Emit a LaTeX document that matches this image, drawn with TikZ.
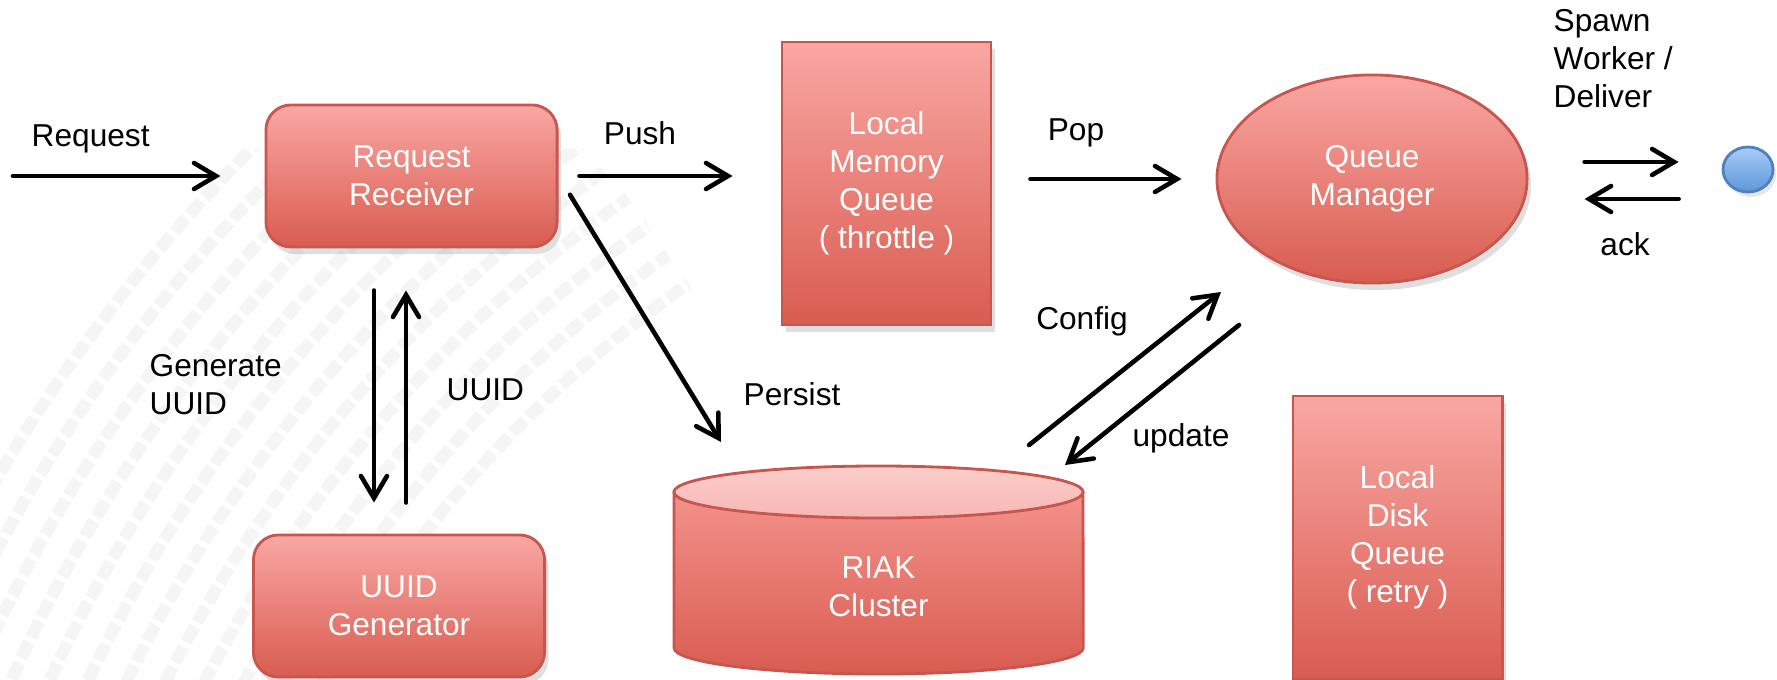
\documentclass[tikz,border=0pt]{standalone}
\usepackage{fontspec}
\setmainfont{Liberation Sans}
\usetikzlibrary{arrows.meta,shapes.geometric,shadows}

\definecolor{boxtop}{HTML}{F9A7A3}
\definecolor{boxbot}{HTML}{D95C50}
\definecolor{boxline}{HTML}{C8564E}
\definecolor{cylbody}{HTML}{F3928B}
\definecolor{cyltop}{HTML}{FBCECB}
\definecolor{cyltopb}{HTML}{F7B7B4}
\definecolor{bubtop}{HTML}{A9CCF6}
\definecolor{bubbot}{HTML}{5C97DA}
\definecolor{bubline}{HTML}{4F81BD}
\definecolor{backband}{HTML}{F5F5F5}

\tikzset{
    block/.style={draw=boxline, line width=0.8pt, top color=boxtop, bottom color=boxbot,
        text=white, align=center, inner sep=1pt, font=\fontsize{9}{10.8}\selectfont,
        drop shadow={opacity=0.25, shadow xshift=0.4mm, shadow yshift=-0.7mm}},
    flow/.style={line width=1.3pt, line cap=round,
        -{Straight Barb[length=2.2mm, width=2.6mm, line cap=round]}},
    lbl/.style={inner sep=0pt, align=left, font=\fontsize{9}{10.8}\selectfont}
}

\begin{document}
\begin{tikzpicture}[x=0.01cm, y=-0.01cm]
        \useasboundingbox (0,0) rectangle (1777,679);
        \begin{scope}
        \clip (0,150) rectangle (720,679);
        \foreach \r in {12.4,12.75,...,16.3}
            \draw[backband, line width=3.5pt, dash pattern=on 5pt off 1.5pt]
            (1400,1300) ++(180:\r cm) arc[start angle=180, end angle=125, radius=\r cm];
        \end{scope}

        \node[block, rounded corners=0.25cm, minimum width=2.91cm, minimum height=1.42cm] (rr) at (411.5,176) {Request\\Receiver};
        \node[block, rounded corners=0.25cm, minimum width=2.91cm, minimum height=1.42cm] (gen) at (399,606) {UUID\\Generator};
        \node[block, minimum width=2.09cm, minimum height=2.83cm] (lmq) at (886.5,183.5) {Local\\Memory\\Queue\\( throttle )};
        \node[block, minimum width=2.09cm, minimum height=2.83cm] (ldq) at (1397.5,537.5) {Local\\Disk\\Queue\\( retry )};
        \node[block, ellipse, minimum width=3.1cm, minimum height=2.08cm] (qm) at (1372,179) {Queue\\Manager};
        \node[ellipse, draw=bubline, line width=0.8pt, top color=bubtop, bottom color=bubbot, minimum width=0.5cm, minimum height=0.45cm, inner sep=0pt,
            drop shadow={opacity=0.2, shadow xshift=0.3mm, shadow yshift=-0.5mm}] (wk) at (1748,169.5) {};
        % the store
        \shade[top color=cylbody, bottom color=boxbot] (674,492) -- (674,648)
        arc[start angle=180, end angle=360, x radius=2.045cm, y radius=0.26cm]
        -- (1083,492) -- cycle;
        \draw[boxline, line width=0.8pt] (674,492) -- (674,648)
        arc[start angle=180, end angle=360, x radius=2.045cm, y radius=0.26cm]
        -- (1083,492);
        \path[draw=boxline, line width=0.8pt, top color=cyltop, bottom color=cyltopb]
        (878.5,492) ellipse[x radius=2.045cm, y radius=0.26cm];
        \node[text=white, align=center, font=\fontsize{9}{10.8}\selectfont] (riak) at (878.5,587) {RIAK\\Cluster};

        \coordinate (src) at (13,176);
        \coordinate (pe) at (721,442);
        \coordinate (cf1) at (1029,445);
        \coordinate (cf2) at (1221,292);
        \coordinate (up1) at (1239,325);
        \coordinate (up2) at (1065,465);
        \coordinate (dl) at ([yshift=0.17cm]qm.east);
        \coordinate (ak) at ([yshift=-0.2cm]qm.east);
        \coordinate (gq) at ([xshift=-0.375cm]rr.south);
        \coordinate (ga) at ([xshift=-0.055cm]rr.south);

        \draw[flow, shorten >=0.44cm] (src) -- (rr.west);
        \draw[flow, shorten <=0.21cm, shorten >=0.48cm] (rr.east) -- (rr.east -| lmq.west);
        \draw[flow, shorten <=0.38cm, shorten >=0.34cm] (lmq.east |- qm.west) -- (qm.west);
        \draw[flow, shorten <=0.56cm, shorten >=0.43cm] (dl) -- (dl -| wk.west);
        \draw[flow, shorten <=0.43cm, shorten >=0.56cm] (ak -| wk.west) -- (ak);
        \draw[flow, shorten <=0.42cm, shorten >=0.31cm] (gq) -- (gq |- gen.north);
        \draw[flow, shorten <=0.31cm, shorten >=0.42cm] (ga |- gen.north) -- (ga);
        \draw[flow, shorten <=0.22cm] (rr.east) -- (pe);
        \draw[flow] (cf1) -- (cf2);
        \draw[flow] (up1) -- (up2);

        \node[lbl, anchor=west] (lreq) at (31,139) {Request};
        \node[lbl] (lpush) at (640,133) {Push};
        \node[lbl] (lpop) at (1076,133) {Pop};
        \node[lbl, anchor=west] (lspawn) at (1553,59) {Spawn\\Worker /\\Deliver};
        \node[lbl] (lack) at (1625,244) {ack};
        \node[lbl, anchor=west] (lgen) at (149,385) {Generate\\UUID};
        \node[lbl, anchor=west] (luuid) at (446,390) {UUID};
        \node[lbl] (lpers) at (792,394) {Persist};
        \node[lbl] (lcfg) at (1082,321) {Config};
        \node[lbl] (lupd) at (1181,438) {update};
\end{tikzpicture}
\end{document}
